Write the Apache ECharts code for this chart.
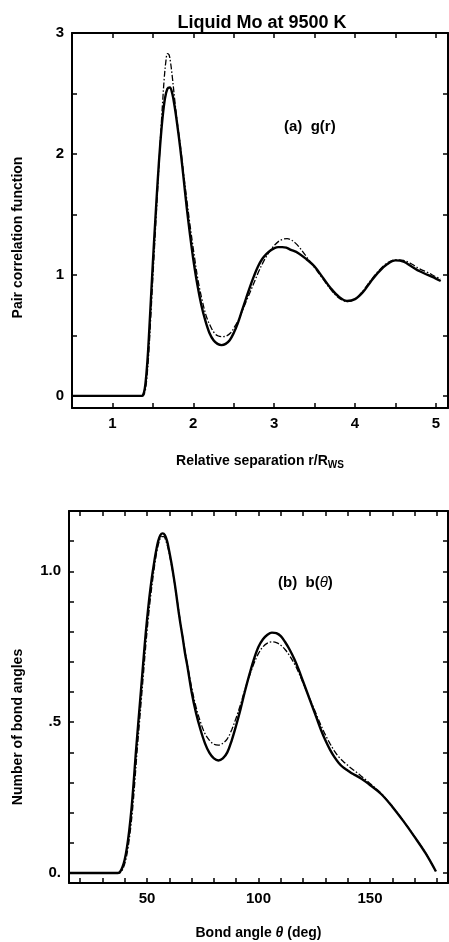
<!DOCTYPE html>
<html>
<head>
<meta charset="utf-8">
<script src="https://cdn.jsdelivr.net/npm/echarts@6/dist/echarts.min.js"></script>
<style>html,body{margin:0;padding:0;background:#fff;}#c{width:449px;height:942px;}</style>
</head>
<body>
<div id="c"></div>
<script>
// ---- Panel (a): pair correlation function g(r) ----
const rSolid = [0.5, 1.0, 1.36, 1.38, 1.40, 1.42, 1.44, 1.46, 1.48, 1.50, 1.53, 1.56, 1.59, 1.62, 1.65, 1.68, 1.71, 1.74, 1.77, 1.80, 1.84, 1.88, 1.92, 1.96, 2.00, 2.05, 2.10, 2.15, 2.20, 2.25, 2.30, 2.35, 2.40, 2.45, 2.50, 2.55, 2.60, 2.65, 2.70, 2.75, 2.80, 2.85, 2.90, 2.95, 3.00, 3.05, 3.10, 3.15, 3.20, 3.30, 3.40, 3.50, 3.60, 3.70, 3.80, 3.90, 4.00, 4.10, 4.20, 4.30, 4.40, 4.50, 4.60, 4.70, 4.80, 4.90, 5.00, 5.06];
const gSolid = [0, 0, 0, 0.01, 0.06, 0.18, 0.36, 0.60, 0.85, 1.10, 1.45, 1.78, 2.07, 2.30, 2.46, 2.54, 2.55, 2.50, 2.39, 2.25, 2.04, 1.80, 1.55, 1.33, 1.13, 0.92, 0.75, 0.62, 0.52, 0.46, 0.43, 0.42, 0.43, 0.46, 0.52, 0.60, 0.70, 0.80, 0.90, 0.99, 1.07, 1.13, 1.17, 1.20, 1.22, 1.23, 1.23, 1.225, 1.21, 1.18, 1.13, 1.07, 0.98, 0.89, 0.82, 0.785, 0.80, 0.86, 0.95, 1.03, 1.09, 1.12, 1.11, 1.07, 1.03, 1.00, 0.97, 0.95];
const rDash = [0.5, 1.0, 1.37, 1.39, 1.41, 1.43, 1.45, 1.47, 1.49, 1.51, 1.54, 1.57, 1.60, 1.62, 1.64, 1.66, 1.68, 1.70, 1.72, 1.74, 1.77, 1.80, 1.84, 1.88, 1.92, 1.96, 2.01, 2.06, 2.11, 2.16, 2.21, 2.26, 2.31, 2.36, 2.41, 2.46, 2.51, 2.56, 2.61, 2.66, 2.71, 2.76, 2.81, 2.86, 2.91, 2.96, 3.01, 3.06, 3.11, 3.16, 3.21, 3.26, 3.31, 3.40, 3.50, 3.60, 3.70, 3.80, 3.90, 4.00, 4.10, 4.20, 4.30, 4.40, 4.50, 4.60, 4.70, 4.80, 4.90, 5.00, 5.06];
const gDash = [0, 0, 0, 0.01, 0.06, 0.18, 0.36, 0.60, 0.85, 1.10, 1.47, 1.84, 2.20, 2.42, 2.62, 2.76, 2.83, 2.82, 2.75, 2.64, 2.45, 2.27, 2.07, 1.84, 1.62, 1.41, 1.17, 0.95, 0.79, 0.66, 0.58, 0.52, 0.495, 0.49, 0.495, 0.52, 0.57, 0.63, 0.71, 0.79, 0.87, 0.95, 1.03, 1.10, 1.16, 1.21, 1.25, 1.28, 1.295, 1.30, 1.29, 1.265, 1.23, 1.15, 1.06, 0.97, 0.88, 0.81, 0.78, 0.80, 0.87, 0.96, 1.04, 1.10, 1.125, 1.12, 1.09, 1.05, 1.02, 0.985, 0.97];
const gxTicks = [1, 1.5, 2, 2.5, 3, 3.5, 4, 4.5, 5];
const gxLabels = [1, 2, 3, 4, 5];
const gyTicks = [0, 0.5, 1, 1.5, 2, 2.5, 3];
const gyLabels = [0, 1, 2, 3];

// ---- Panel (b): bond angle distribution b(theta) ----
const thSolid = [15, 37, 38, 39, 40, 41, 42, 43, 44, 45, 46, 47, 48, 49, 50, 51, 52, 53, 54, 55, 56, 57, 58, 59, 60, 61, 62, 63, 64, 65, 66, 67, 68, 70, 72, 74, 76, 78, 80, 82, 84, 86, 88, 90, 92, 94, 96, 98, 100, 102, 104, 106, 108, 110, 112, 114, 116, 118, 120, 122, 124, 126, 128, 130, 132, 134, 136, 138, 140, 142, 144, 146, 148, 150, 155, 160, 165, 170, 175, 179.6];
const bSolid = [0, 0, 0.005, 0.02, 0.045, 0.085, 0.14, 0.21, 0.30, 0.40, 0.49, 0.58, 0.67, 0.76, 0.84, 0.91, 0.97, 1.02, 1.065, 1.10, 1.12, 1.126, 1.12, 1.10, 1.065, 1.025, 0.98, 0.93, 0.875, 0.825, 0.78, 0.73, 0.69, 0.60, 0.53, 0.475, 0.43, 0.398, 0.38, 0.373, 0.38, 0.40, 0.44, 0.49, 0.545, 0.605, 0.66, 0.71, 0.75, 0.775, 0.79, 0.797, 0.795, 0.785, 0.765, 0.74, 0.71, 0.675, 0.635, 0.595, 0.555, 0.515, 0.475, 0.44, 0.41, 0.385, 0.365, 0.35, 0.34, 0.33, 0.322, 0.313, 0.303, 0.292, 0.262, 0.22, 0.172, 0.12, 0.065, 0.005];
const thDash = [15, 37.5, 38.5, 39.5, 40.5, 41.5, 42.5, 43.5, 44.5, 45.5, 46.5, 47.5, 48.5, 49.5, 50.5, 51.5, 52.5, 53.5, 54.5, 55.5, 56.5, 57.5, 58.5, 59.5, 60.5, 61.5, 62.5, 63.5, 64.5, 65.5, 66.5, 67.5, 68.5, 70, 72, 74, 76, 78, 80, 82, 84, 86, 88, 90, 92, 94, 96, 98, 100, 102, 104, 106, 108, 110, 112, 114, 116, 118, 120, 122, 124, 126, 128, 130, 132, 134, 136, 138, 140, 142, 144, 146, 148, 150, 155, 160, 165, 170, 175, 179.6];
const bDash = [0, 0, 0.005, 0.02, 0.045, 0.085, 0.14, 0.21, 0.30, 0.40, 0.49, 0.58, 0.67, 0.76, 0.84, 0.91, 0.97, 1.025, 1.07, 1.10, 1.115, 1.115, 1.10, 1.075, 1.04, 1.00, 0.955, 0.905, 0.855, 0.805, 0.76, 0.715, 0.675, 0.615, 0.55, 0.50, 0.462, 0.44, 0.427, 0.424, 0.43, 0.445, 0.475, 0.515, 0.56, 0.61, 0.655, 0.695, 0.728, 0.75, 0.762, 0.766, 0.764, 0.755, 0.74, 0.72, 0.695, 0.665, 0.63, 0.595, 0.56, 0.525, 0.49, 0.458, 0.43, 0.405, 0.385, 0.37, 0.357, 0.345, 0.334, 0.322, 0.31, 0.297, 0.264, 0.221, 0.173, 0.121, 0.066, 0.005];
const bxTicks = [20, 30, 40, 50, 60, 70, 80, 90, 100, 110, 120, 130, 140, 150, 160, 170, 180];
const bxLabels = [50, 100, 150];
const byTicks = [0, 0.1, 0.2, 0.3, 0.4, 0.5, 0.6, 0.7, 0.8, 0.9, 1.0, 1.1];
const byLabels = [0, 0.5, 1.0];

const FONT = '"Liberation Sans", Arial, sans-serif';
const zip = (xs, ys) => xs.map((x, i) => [x, ys[i]]);

const lineStyleAxis = { color: '#000', width: 2 };
const tickStyle = { color: '#000', width: 1.5 };
const labelStyle = { color: '#000', fontFamily: FONT, fontWeight: 'bold', fontSize: 15 };

function xAx(grid, min, max, ticks, labels, pos, name, nameGap, rich) {
  return {
    type: 'value', gridIndex: grid, min: min, max: max, position: pos,
    axisLine: { show: true, onZero: false, lineStyle: lineStyleAxis },
    axisTick: { show: true, inside: true, length: 5, lineStyle: tickStyle, customValues: ticks },
    axisLabel: labels ? Object.assign({ show: true, margin: 8, customValues: labels }, labelStyle) : { show: false },
    splitLine: { show: false },
    name: name || '', nameLocation: 'middle', nameGap: nameGap || 0,
    nameTextStyle: { color: '#000', fontFamily: FONT, fontWeight: 'bold', fontSize: 14, rich: rich || {} }
  };
}
function yAx(grid, min, max, ticks, labels, pos, name, nameGap, pad, fmt) {
  const lab = labels ? Object.assign({ show: true, margin: 8, customValues: labels }, labelStyle) : { show: false };
  if (labels && fmt) lab.formatter = fmt;
  return {
    type: 'value', gridIndex: grid, min: min, max: max, position: pos,
    axisLine: { show: true, onZero: false, lineStyle: lineStyleAxis },
    axisTick: { show: true, inside: true, length: 5, lineStyle: tickStyle, customValues: ticks },
    axisLabel: lab,
    splitLine: { show: false },
    name: name || '', nameLocation: 'middle', nameGap: nameGap || 0, nameRotate: 90,
    nameTextStyle: { color: '#000', fontFamily: FONT, fontWeight: 'bold', fontSize: 14, padding: pad || 0 }
  };
}

const chart = echarts.init(document.getElementById('c'), null, { renderer: 'canvas' });
chart.setOption({
  animation: false,
  backgroundColor: '#fff',
  title: {
    text: 'Liquid Mo at 9500 K', left: 257, top: 9, textAlign: 'center',
    textStyle: { color: '#000', fontFamily: FONT, fontWeight: 'bold', fontSize: 18 }
  },
  grid: [
    { left: 72, top: 33, width: 376, height: 375 },
    { left: 69, top: 511, width: 379, height: 372 }
  ],
  xAxis: [
    xAx(0, 0.5, 5.15, gxTicks, gxLabels, 'bottom', 'Relative separation r/R{sub|WS}', 44,
        { sub: { fontFamily: FONT, fontWeight: 'bold', fontSize: 10, verticalAlign: 'bottom', padding: [8, 0, 0, 0] } }),
    xAx(0, 0.5, 5.15, gxTicks, null, 'top'),
    xAx(1, 15, 185, bxTicks, bxLabels, 'bottom', 'Bond angle {it|\u03b8} (deg)', 43,
        { it: { fontFamily: FONT, fontStyle: 'italic', fontSize: 14 } }),
    xAx(1, 15, 185, bxTicks, null, 'top')
  ],
  yAxis: [
    yAx(0, -0.1, 3, gyTicks, gyLabels, 'left', 'Pair correlation function', 47, [0, 34, 0, 0]),
    yAx(0, -0.1, 3, gyTicks, null, 'right'),
    yAx(1, -0.033, 1.2, byTicks, byLabels, 'left', 'Number of bond angles', 44, [0, 60, 0, 0],
        v => (v === 0 ? '0.' : (v === 0.5 ? '.5' : '1.0'))),
    yAx(1, -0.033, 1.2, byTicks, null, 'right')
  ],
  graphic: [
    { type: 'text', left: 284, top: 119, style: { text: '(a)  g(r)', fill: '#000', font: 'bold 15px ' + FONT } },
    { type: 'text', left: 278, top: 575, style: {
        text: '(b)  b({it|\u03b8})', fill: '#000', font: 'bold 15px ' + FONT,
        rich: { it: { fontFamily: FONT, fontStyle: 'italic', fontSize: 15, fill: '#000' } } } }
  ],
  series: [
    { type: 'line', xAxisIndex: 0, yAxisIndex: 0, data: zip(rSolid, gSolid), smooth: 0.35, showSymbol: false,
      lineStyle: { color: '#000', width: 2.4 } },
    { type: 'line', xAxisIndex: 0, yAxisIndex: 0, data: zip(rDash, gDash), smooth: 0.35, showSymbol: false,
      lineStyle: { color: '#000', width: 1.3, type: [6, 2, 1.5, 2] } },
    { type: 'line', xAxisIndex: 2, yAxisIndex: 2, data: zip(thSolid, bSolid), smooth: 0.35, showSymbol: false,
      lineStyle: { color: '#000', width: 2.4 } },
    { type: 'line', xAxisIndex: 2, yAxisIndex: 2, data: zip(thDash, bDash), smooth: 0.35, showSymbol: false,
      lineStyle: { color: '#000', width: 1.3, type: [6, 2, 1.5, 2] } }
  ]
});
</script>
</body>
</html>
